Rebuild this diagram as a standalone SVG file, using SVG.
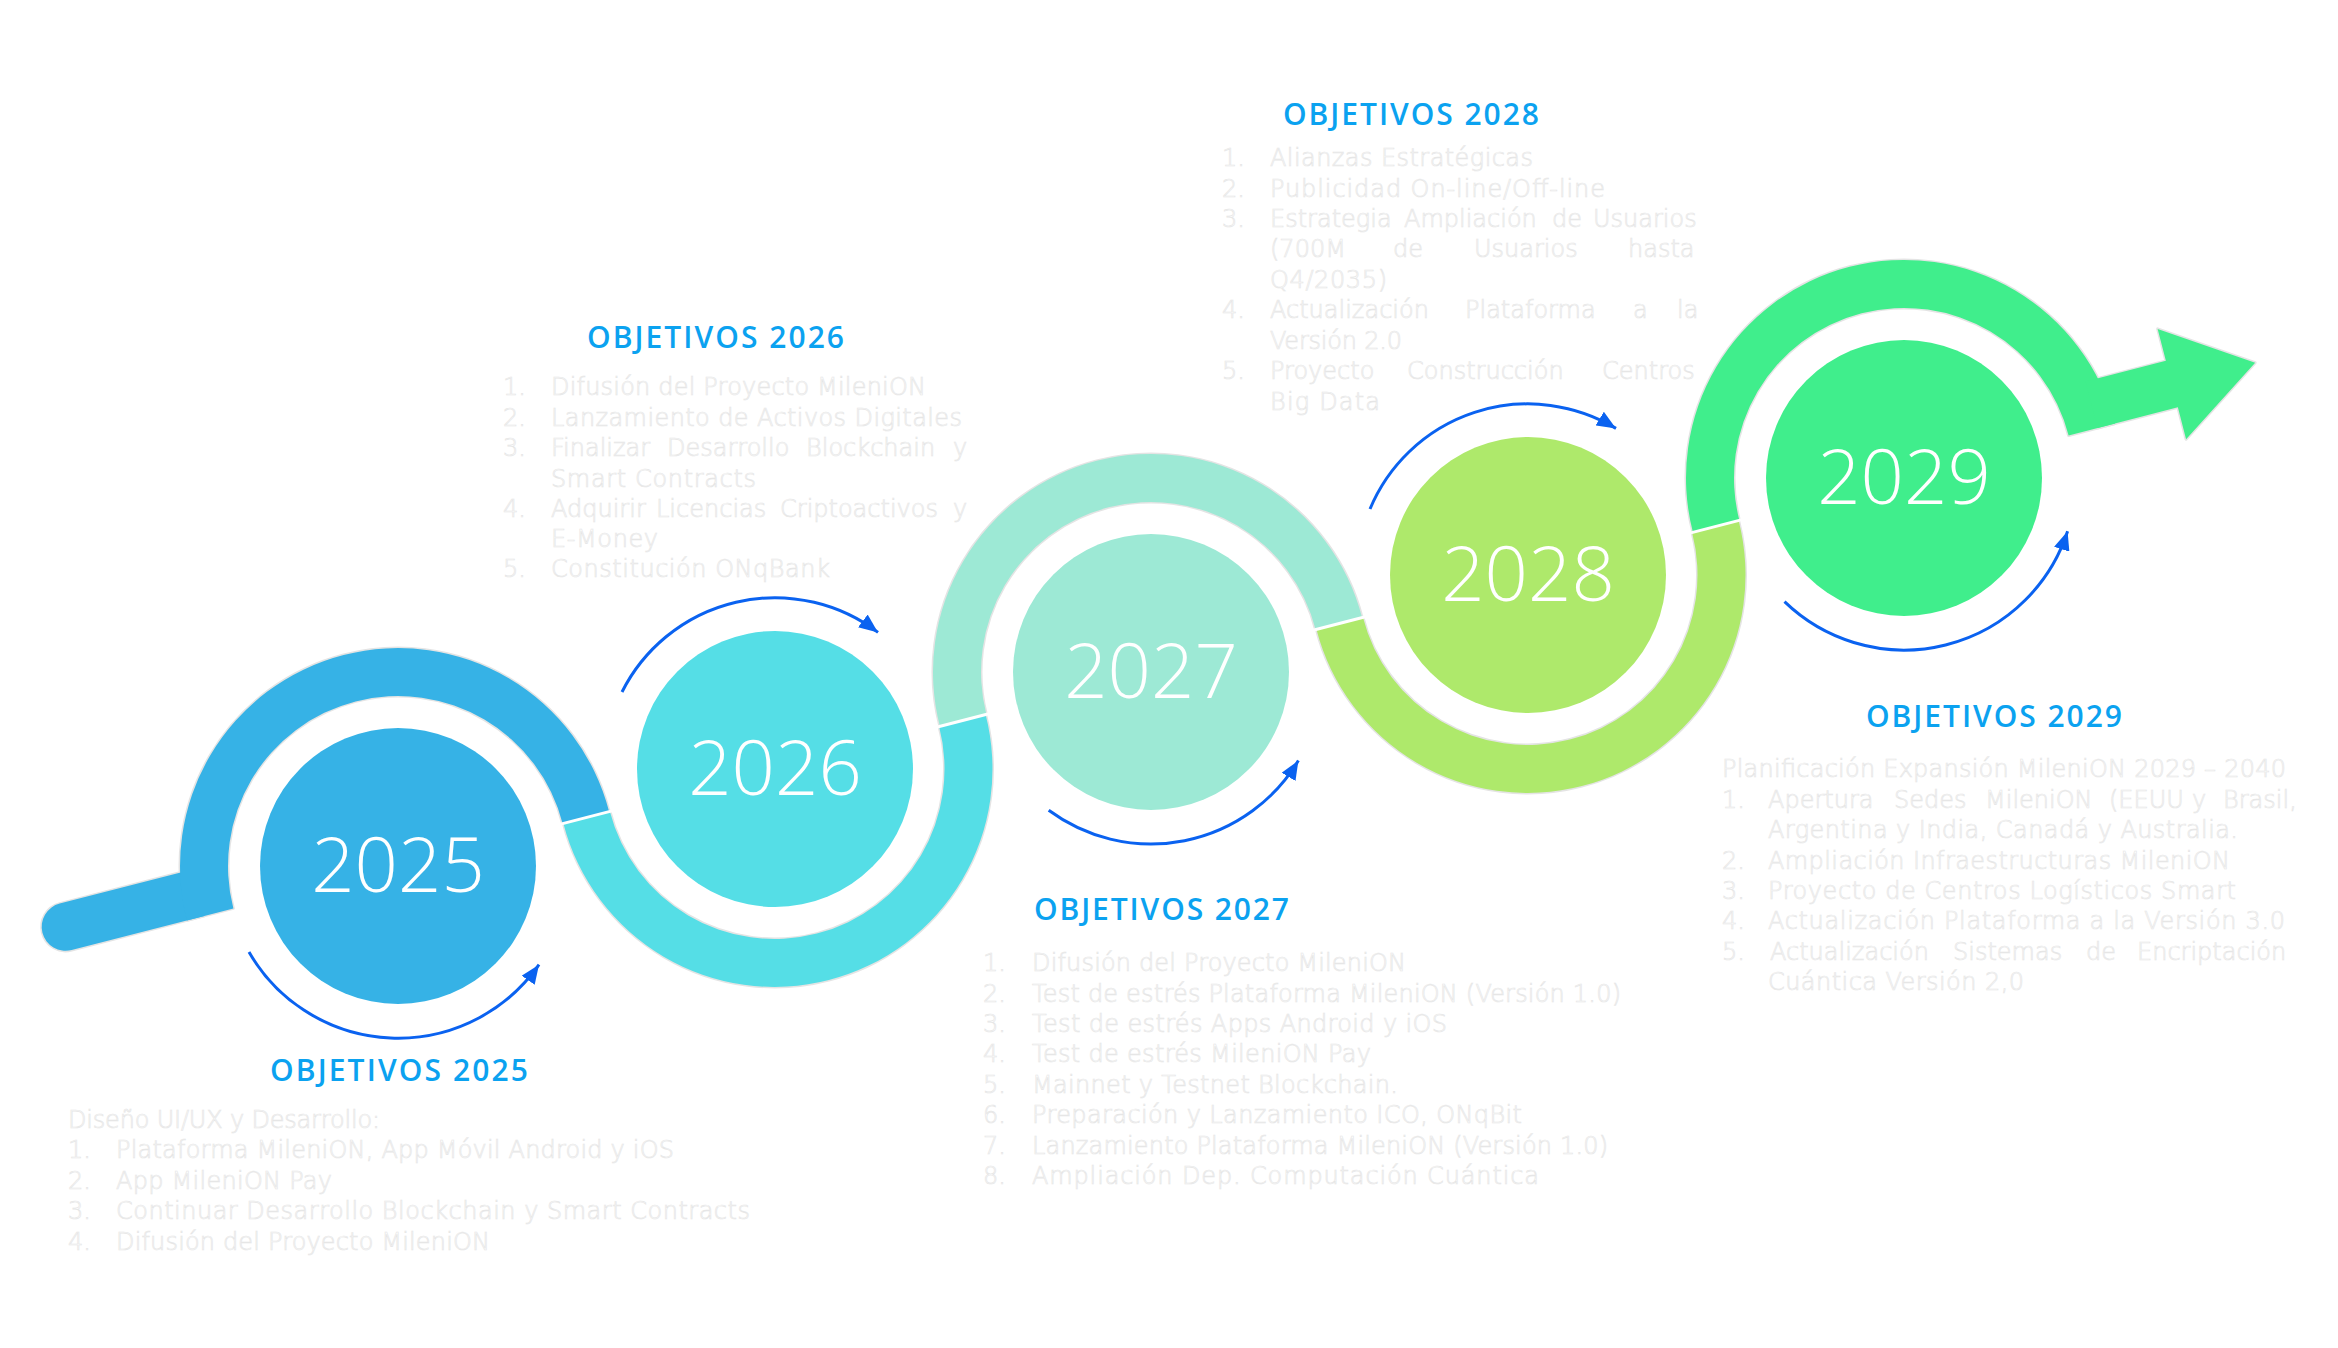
<svg xmlns="http://www.w3.org/2000/svg" xmlns:xlink="http://www.w3.org/1999/xlink" width="2338" height="1348" viewBox="0 0 2338 1348">
<style>
.t{font-family:"Open Sans","Liberation Sans",sans-serif;font-weight:600;font-size:30px;fill:#0BA2F0}
.b{font-family:"DejaVu Sans","Liberation Sans",sans-serif;font-weight:200;font-size:24px;fill:#ffffff;stroke:#e6e6e6;stroke-width:0.7}
.y{font-family:"Open Sans","Liberation Sans",sans-serif;font-weight:300;font-size:76px;fill:#ffffff;text-anchor:middle}
.arc{fill:none;stroke:#0A62F0;stroke-width:3;marker-end:url(#ah)}
.sep{stroke:#ffffff;stroke-width:3}
</style>
<defs>
<marker id="ah" markerUnits="userSpaceOnUse" markerWidth="19" markerHeight="16" refX="19" refY="8" orient="auto" viewBox="0 0 19 16"><path d="M0,0 L19,8 L0,16 Z" fill="#0A62F0"/></marker>
<g id="rshape">
<path d="M-200,0 L-337,0 A24,24 0 0 1 -337,-48 L-200,-48 Z"/>
<path d="M218,0 A218,218 0 0 0 -218,0 L-170,0 A170,170 0 0 1 170,0 Z"/>
<path d="M170.8,0 A218,218 0 0 0 606.8,0 L558.8,0 A170,170 0 0 1 218.8,0 Z"/>
<path d="M995.6,0 A218,218 0 0 0 559.6,0 L607.6,0 A170,170 0 0 1 947.6,0 Z"/>
<path d="M948.4,0 A218,218 0 0 0 1384.4,0 L1336.4,0 A170,170 0 0 1 996.4,0 Z"/>
<path d="M1773.2,0 A218,218 0 0 0 1337.2,0 L1385.2,0 A170,170 0 0 1 1725.2,0 Z"/>
<path d="M1755,0 L1838,0 L1838,33 L1924,-24 L1838,-81 L1838,-48 L1755,-48 Z"/>
</g>
</defs>
<rect width="2338" height="1348" fill="#ffffff"/>
<g id="ribbon" transform="translate(398 866) rotate(-14.45)">
<use xlink:href="#rshape" fill="#e4e4e4" stroke="#e4e4e4" stroke-width="3" stroke-linejoin="round"/>
<path d="M-200,0 L-337,0 A24,24 0 0 1 -337,-48 L-200,-48 Z" fill="#36B2E6"/>
<path d="M218,0 A218,218 0 0 0 -218,0 L-170,0 A170,170 0 0 1 170,0 Z" fill="#36B2E6"/>
<path d="M170.8,0 A218,218 0 0 0 606.8,0 L558.8,0 A170,170 0 0 1 218.8,0 Z" fill="#55DEE6"/>
<path d="M995.6,0 A218,218 0 0 0 559.6,0 L607.6,0 A170,170 0 0 1 947.6,0 Z" fill="#9DE9D5"/>
<path d="M948.4,0 A218,218 0 0 0 1384.4,0 L1336.4,0 A170,170 0 0 1 996.4,0 Z" fill="#AEE96B"/>
<path d="M1773.2,0 A218,218 0 0 0 1337.2,0 L1385.2,0 A170,170 0 0 1 1725.2,0 Z" fill="#40EE8C"/>
<path d="M1755,0 L1838,0 L1838,33 L1924,-24 L1838,-81 L1838,-48 L1755,-48 Z" fill="#40EE8C"/>
<line class="sep" x1="167" y1="0" x2="222" y2="0"/>
<line class="sep" x1="556" y1="0" x2="611" y2="0"/>
<line class="sep" x1="945" y1="0" x2="1000" y2="0"/>
<line class="sep" x1="1334" y1="0" x2="1389" y2="0"/>
</g>
<g id="connectors">
<path class="arc" d="M249,952 A172,172 0 0 0 539,964.7"/>
<path class="arc" d="M622,692 A171,171 0 0 1 878,632.4"/>
<path class="arc" d="M1048.7,810.3 A172,172 0 0 0 1298.4,760.6"/>
<path class="arc" d="M1370,509 A171,171 0 0 1 1616,428.4"/>
<path class="arc" d="M1784.5,601.7 A172,172 0 0 0 2067.6,531.2"/>
</g>
<g id="node-2025">
<circle cx="398" cy="866" r="138" fill="#36B2E6"/>
<text class="y" x="398" y="892">2025</text>
<text class="t" x="270" y="1081" textLength="258" lengthAdjust="spacing">OBJETIVOS 2025</text>
<text class="b" x="68" y="1128" textLength="312" lengthAdjust="spacing">Diseño UI/UX y Desarrollo:</text>
<text class="b" x="68" y="1158">1.</text><text class="b" x="116" y="1158" textLength="558" lengthAdjust="spacing">Plataforma MileniON, App Móvil Android y iOS</text>
<text class="b" x="68" y="1189">2.</text><text class="b" x="116" y="1189" textLength="216" lengthAdjust="spacing">App MileniON Pay</text>
<text class="b" x="68" y="1219">3.</text><text class="b" x="116" y="1219" textLength="634" lengthAdjust="spacing">Continuar Desarrollo Blockchain y Smart Contracts</text>
<text class="b" x="68" y="1250">4.</text><text class="b" x="116" y="1250" textLength="374" lengthAdjust="spacing">Difusión del Proyecto MileniON</text>
</g>
<g id="node-2026">
<circle cx="775" cy="769" r="138" fill="#55DEE6"/>
<text class="y" x="775" y="795">2026</text>
<text class="t" x="587" y="348" textLength="257" lengthAdjust="spacing">OBJETIVOS 2026</text>
<text class="b" x="503" y="395">1.</text><text class="b" x="551" y="395" textLength="375" lengthAdjust="spacing">Difusión del Proyecto MileniON</text>
<text class="b" x="503" y="426">2.</text><text class="b" x="551" y="426" textLength="411" lengthAdjust="spacing">Lanzamiento de Activos Digitales</text>
<text class="b" x="503" y="456">3.</text><text class="b" y="456"><tspan x="551">Finalizar</tspan> <tspan x="667">Desarrollo</tspan> <tspan x="806">Blockchain</tspan> <tspan x="953">y</tspan></text>
<text class="b" x="551" y="487" textLength="205" lengthAdjust="spacing">Smart Contracts</text>
<text class="b" x="503" y="517">4.</text><text class="b" y="517"><tspan x="551">Adquirir</tspan> <tspan x="656">Licencias</tspan> <tspan x="780">Criptoactivos</tspan> <tspan x="953">y</tspan></text>
<text class="b" x="551" y="547" textLength="107" lengthAdjust="spacing">E-Money</text>
<text class="b" x="503" y="577">5.</text><text class="b" x="551" y="577" textLength="279" lengthAdjust="spacing">Constitución ONqBank</text>
</g>
<g id="node-2027">
<circle cx="1151" cy="672" r="138" fill="#9DE9D5"/>
<text class="y" x="1151" y="698">2027</text>
<text class="t" x="1034" y="920" textLength="255" lengthAdjust="spacing">OBJETIVOS 2027</text>
<text class="b" x="983" y="971">1.</text><text class="b" x="1032" y="971" textLength="374" lengthAdjust="spacing">Difusión del Proyecto MileniON</text>
<text class="b" x="983" y="1002">2.</text><text class="b" x="1032" y="1002" textLength="589" lengthAdjust="spacing">Test de estrés Plataforma MileniON (Versión 1.0)</text>
<text class="b" x="983" y="1032">3.</text><text class="b" x="1032" y="1032" textLength="415" lengthAdjust="spacing">Test de estrés Apps Android y iOS</text>
<text class="b" x="983" y="1062">4.</text><text class="b" x="1032" y="1062" textLength="339" lengthAdjust="spacing">Test de estrés MileniON Pay</text>
<text class="b" x="983" y="1093">5.</text><text class="b" x="1032" y="1093" textLength="366" lengthAdjust="spacing">Mainnet y Testnet Blockchain.</text>
<text class="b" x="983" y="1123">6.</text><text class="b" x="1032" y="1123" textLength="490" lengthAdjust="spacing">Preparación y Lanzamiento ICO, ONqBit</text>
<text class="b" x="983" y="1154">7.</text><text class="b" x="1032" y="1154" textLength="576" lengthAdjust="spacing">Lanzamiento Plataforma MileniON (Versión 1.0)</text>
<text class="b" x="983" y="1184">8.</text><text class="b" x="1032" y="1184" textLength="507" lengthAdjust="spacing">Ampliación Dep. Computación Cuántica</text>
</g>
<g id="node-2028">
<circle cx="1528" cy="575" r="138" fill="#AEE96B"/>
<text class="y" x="1528" y="601">2028</text>
<text class="t" x="1283" y="125" textLength="256" lengthAdjust="spacing">OBJETIVOS 2028</text>
<text class="b" x="1222" y="166">1.</text><text class="b" x="1270" y="166" textLength="263" lengthAdjust="spacing">Alianzas Estratégicas</text>
<text class="b" x="1222" y="197">2.</text><text class="b" x="1270" y="197" textLength="335" lengthAdjust="spacing">Publicidad On-line/Off-line</text>
<text class="b" x="1222" y="227">3.</text><text class="b" y="227"><tspan x="1270">Estrategia</tspan> <tspan x="1404">Ampliación</tspan> <tspan x="1552">de</tspan> <tspan x="1593">Usuarios</tspan></text>
<text class="b" y="257"><tspan x="1270">(700M</tspan> <tspan x="1393">de</tspan> <tspan x="1474">Usuarios</tspan> <tspan x="1628">hasta</tspan></text>
<text class="b" x="1270" y="288" textLength="117" lengthAdjust="spacing">Q4/2035)</text>
<text class="b" x="1222" y="318">4.</text><text class="b" y="318"><tspan x="1270">Actualización</tspan> <tspan x="1465">Plataforma</tspan> <tspan x="1633">a</tspan> <tspan x="1677">la</tspan></text>
<text class="b" x="1270" y="349" textLength="132" lengthAdjust="spacing">Versión 2.0</text>
<text class="b" x="1222" y="379">5.</text><text class="b" y="379"><tspan x="1270">Proyecto</tspan> <tspan x="1407">Construcción</tspan> <tspan x="1602">Centros</tspan></text>
<text class="b" x="1270" y="410" textLength="110" lengthAdjust="spacing">Big Data</text>
</g>
<g id="node-2029">
<circle cx="1904" cy="478" r="138" fill="#40EE8C"/>
<text class="y" x="1904" y="504">2029</text>
<text class="t" x="1866" y="727" textLength="256" lengthAdjust="spacing">OBJETIVOS 2029</text>
<text class="b" x="1722" y="777" textLength="564" lengthAdjust="spacing">Planificación Expansión MileniON 2029 – 2040</text>
<text class="b" x="1722" y="808">1.</text><text class="b" y="808"><tspan x="1768">Apertura</tspan> <tspan x="1894">Sedes</tspan> <tspan x="1985">MileniON</tspan> <tspan x="2109">(EEUU</tspan> <tspan x="2192">y</tspan> <tspan x="2223">Brasil,</tspan></text>
<text class="b" x="1768" y="838" textLength="470" lengthAdjust="spacing">Argentina y India, Canadá y Australia.</text>
<text class="b" x="1722" y="869">2.</text><text class="b" x="1768" y="869" textLength="462" lengthAdjust="spacing">Ampliación Infraestructuras MileniON</text>
<text class="b" x="1722" y="899">3.</text><text class="b" x="1768" y="899" textLength="468" lengthAdjust="spacing">Proyecto de Centros Logísticos Smart</text>
<text class="b" x="1722" y="929">4.</text><text class="b" x="1768" y="929" textLength="517" lengthAdjust="spacing">Actualización Plataforma a la Versión 3.0</text>
<text class="b" x="1722" y="960">5.</text><text class="b" y="960"><tspan x="1770">Actualización</tspan> <tspan x="1953">Sistemas</tspan> <tspan x="2086">de</tspan> <tspan x="2137">Encriptación</tspan></text>
<text class="b" x="1768" y="990" textLength="256" lengthAdjust="spacing">Cuántica Versión 2,0</text>
</g>
</svg>
